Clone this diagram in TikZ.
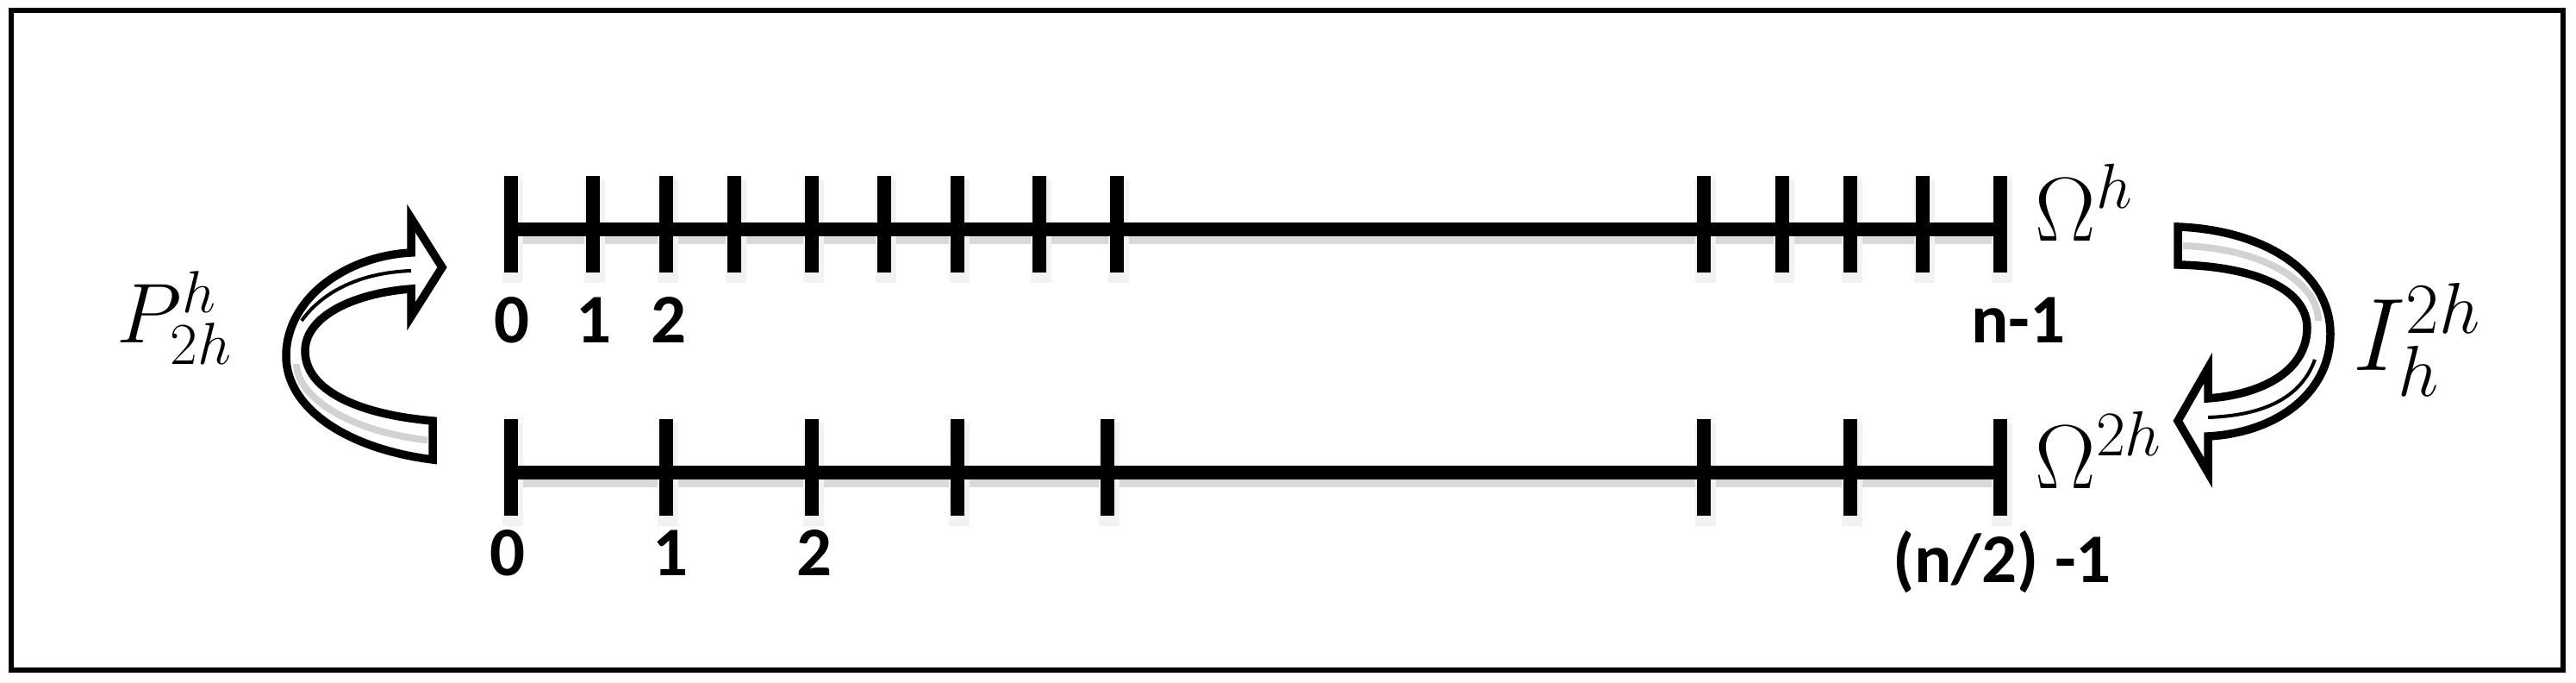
\RequirePackage{fix-cm}
\documentclass[tikz,border=0pt]{standalone}
\usepackage{fontspec}
\newfontfamily\labelfont{Carlito}
\usepackage{tikz}
\usetikzlibrary{positioning}

\tikzset{
  gridline/.style={line width=0.167cm},
  gridshadow/.style={line width=0.17cm, gray!30},
  tickshadow/.style={line width=0.24cm, gray!10},
  ticklabel/.style={inner sep=0pt, anchor=base, font=\labelfont\bfseries\fontsize{23}{27}\selectfont},
  gridname/.style={inner sep=0pt, anchor=base west, font=\fontsize{30}{36}\selectfont},
  opname/.style={inner sep=0pt, anchor=base west},
  arrowshape/.style={line width=0.095cm, line join=miter, fill=white},
  bandstripe/.style={line width=0.08cm, gray!35},
  foldline/.style={line width=0.04cm}
}

\begin{document}
\begin{tikzpicture} % fine and coarse grid
  \useasboundingbox (0,0) rectangle (29.89,7.92);
  \draw[line width=0.06cm] (0.13,0.15) rectangle (29.74,7.80);
  \def\ytop{5.26}
  \def\ybot{2.44}
  % shadows
  \draw[gridshadow] (5.95,\ytop-0.09) -- (23.25,\ytop-0.09);
  \draw[gridshadow] (5.95,\ybot-0.09) -- (23.25,\ybot-0.09);
  \foreach \x in {5.93,6.88,7.73,8.52,9.42,10.26,11.11,12.06,12.96,19.77,20.68,21.47,22.31,23.21}
    \draw[tickshadow] (\x+0.02,\ytop+0.58) -- (\x+0.02,\ytop-0.62);
  \foreach \x in {5.93,7.73,9.42,11.11,12.85,19.77,21.47,23.21}
    \draw[tickshadow] (\x+0.02,\ybot+0.58) -- (\x+0.02,\ybot-0.62);
  % grid lines
  \draw[gridline] (5.93,\ytop) -- (23.21,\ytop);
  \draw[gridline] (5.93,\ybot) -- (23.21,\ybot);
  \foreach \x in {5.93,6.88,7.73,8.52,9.42,10.26,11.11,12.06,12.96,19.77,20.68,21.47,22.31,23.21}
    \draw[gridline] (\x,\ytop+0.62) -- (\x,\ytop-0.50);
  \foreach \x in {5.93,7.73,9.42,11.11,12.85,19.77,21.47,23.21}
    \draw[gridline] (\x,\ybot+0.62) -- (\x,\ybot-0.50);
  % labels
  \node[ticklabel] (f0) at (5.94,3.94) {0};
  \node[ticklabel] (f1) at (6.89,3.94) {1};
  \node[ticklabel] (f2) at (7.76,3.94) {2};
  \node[ticklabel] (fn) at (23.42,3.94) {n-1};
  \node[ticklabel] (c0) at (5.89,1.24) {0};
  \node[ticklabel] (c1) at (7.78,1.24) {1};
  \node[ticklabel] (c2) at (9.45,1.24) {2};
  \node[ticklabel] (cn) at (23.23,1.16) {(n/2) -1};
  \node[gridname] (fine) at (23.61,5.12) {$\Omega^h$};
  \node[gridname] (coarse) at (23.61,2.25) {$\Omega^{2h}$};
  \node[opname, font=\fontsize{28}{34}\selectfont] (prolong) at (1.35,3.94) {$P_{2h}^h$};
  \node[opname, font=\fontsize{34}{40}\selectfont] (restrict) at (27.30,3.62) {$I_h^{2h}$};
  % curved arrow, coarse to fine
  \filldraw[arrowshape] (5.02,2.59) .. controls (4.0,2.72) and (3.32,3.2) .. (3.32,3.79)
    .. controls (3.32,4.45) and (4.0,4.95) .. (4.77,4.99) -- (4.77,5.39) -- (5.13,4.82)
    -- (4.77,4.25) -- (4.77,4.57) .. controls (4.1,4.52) and (3.54,4.25) .. (3.54,3.85)
    .. controls (3.54,3.42) and (4.1,3.12) .. (5.02,3.04) -- cycle;
  \draw[bandstripe] (4.96,2.815) .. controls (4.05,2.92) and (3.45,3.31) .. (3.44,3.7);
  \draw[foldline] (3.5,4.2) .. controls (3.75,4.55) and (4.2,4.76) .. (4.77,4.78);
  % curved arrow, fine to coarse
  \filldraw[arrowshape] (25.27,5.29) .. controls (26.3,5.25) and (27.04,4.75) .. (27.04,4.05)
    .. controls (27.04,3.35) and (26.4,2.9) .. (25.62,2.86) -- (25.62,2.44) -- (25.27,3.04)
    -- (25.62,3.65) -- (25.62,3.30) .. controls (26.3,3.35) and (26.77,3.65) .. (26.77,4.12)
    .. controls (26.77,4.55) and (26.2,4.83) .. (25.27,4.85) -- cycle;
  \draw[bandstripe] (25.33,5.07) .. controls (26.25,5.04) and (26.9,4.65) .. (26.9,4.2);
  \draw[foldline] (26.86,3.75) .. controls (26.7,3.3) and (26.25,3.1) .. (25.62,3.08);
\end{tikzpicture}
\end{document}
